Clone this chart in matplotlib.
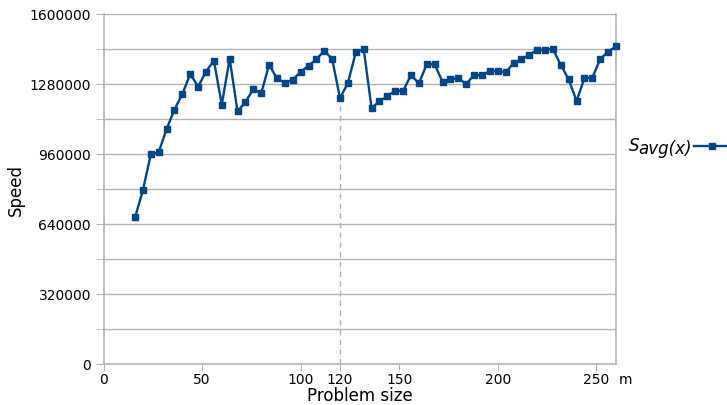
import matplotlib
matplotlib.use("Agg")
import matplotlib.pyplot as plt
from matplotlib.lines import Line2D
from matplotlib.ticker import MultipleLocator

problem_size = list(range(16, 261, 4))
speed = [670000, 795000, 958000, 968000, 1074000, 1163000, 1234000, 1326000,
         1268000, 1336000, 1387000, 1186000, 1396000, 1155000, 1197000, 1257000,
         1237000, 1368000, 1306000, 1285000, 1300000, 1335000, 1364000, 1393000,
         1432000, 1394000, 1215000, 1285000, 1425000, 1440000, 1170000, 1201000,
         1224000, 1250000, 1248000, 1321000, 1283000, 1370000, 1370000, 1289000,
         1301000, 1307000, 1280000, 1321000, 1320000, 1339000, 1339000, 1333000,
         1375000, 1394000, 1413000, 1437000, 1437000, 1440000, 1367000, 1301000,
         1202000, 1307000, 1309000, 1394000, 1428000, 1452000]
x_ticks = [0, 50, 100, 120, 150, 200, 250]
y_ticks = [0, 320000, 640000, 960000, 1280000, 1600000]
marked_x = 120

W, H = 727, 406
fig = plt.figure(figsize=(W / 100, H / 100), dpi=100)
ax = fig.add_axes([103.5 / W, 1 - 365 / H, (616 - 103.5) / W, (365 - 15) / H])

grid_c = "#b3b3b3"
blue = "#004586"

ax.set_xlim(0, 260)
ax.set_ylim(0, 1600000)
ax.set_yticks(y_ticks)
ax.set_yticklabels([str(v) for v in y_ticks])
ax.yaxis.set_minor_locator(MultipleLocator(160000))
ax.set_xticks(x_ticks)
ax.set_xticklabels([str(v) for v in x_ticks])

ax.grid(True, axis="y", which="both", color=grid_c, linewidth=1)
ax.set_axisbelow(True)
for s in ["left", "bottom", "right"]:
    ax.spines[s].set_color(grid_c)
    ax.spines[s].set_linewidth(1.2)
ax.spines["top"].set_visible(False)

ax.tick_params(axis="y", which="both", length=6, color=grid_c, labelsize=10, pad=3)
ax.tick_params(axis="x", length=5, color=grid_c, labelsize=10, pad=1)

idx = problem_size.index(marked_x)
ax.vlines(marked_x, 0, speed[idx], colors=grid_c, linestyles=(0, (4, 3)), linewidth=1, zorder=1)

ax.plot(problem_size, speed, color=blue, linewidth=1.7, marker="s", markersize=4.6,
        zorder=3, clip_on=False)

ax.set_xlabel("Problem size", fontsize=12, labelpad=0)
ax.set_ylabel("Speed", fontsize=12, labelpad=3)
ax.annotate("m", xy=(1, 0), xycoords="axes fraction", xytext=(2, -6),
            textcoords="offset points", ha="left", va="top", fontsize=10)

# legend drawn manually
fig.text(629 / W, 1 - 151.5 / H, "S", fontsize=12, style="italic", va="baseline")
fig.text(638 / W, 1 - 154 / H, "avg(x)", fontsize=12, style="italic", va="baseline")
ly = 1 - 146.7 / H
fig.add_artist(Line2D([694 / W, 727 / W], [ly, ly], transform=fig.transFigure,
                      color=blue, linewidth=1.7))
fig.add_artist(Line2D([711.5 / W], [ly], transform=fig.transFigure, color=blue,
                      marker="s", markersize=4.6, linestyle="none"))

fig.savefig("out.png", dpi=100)
